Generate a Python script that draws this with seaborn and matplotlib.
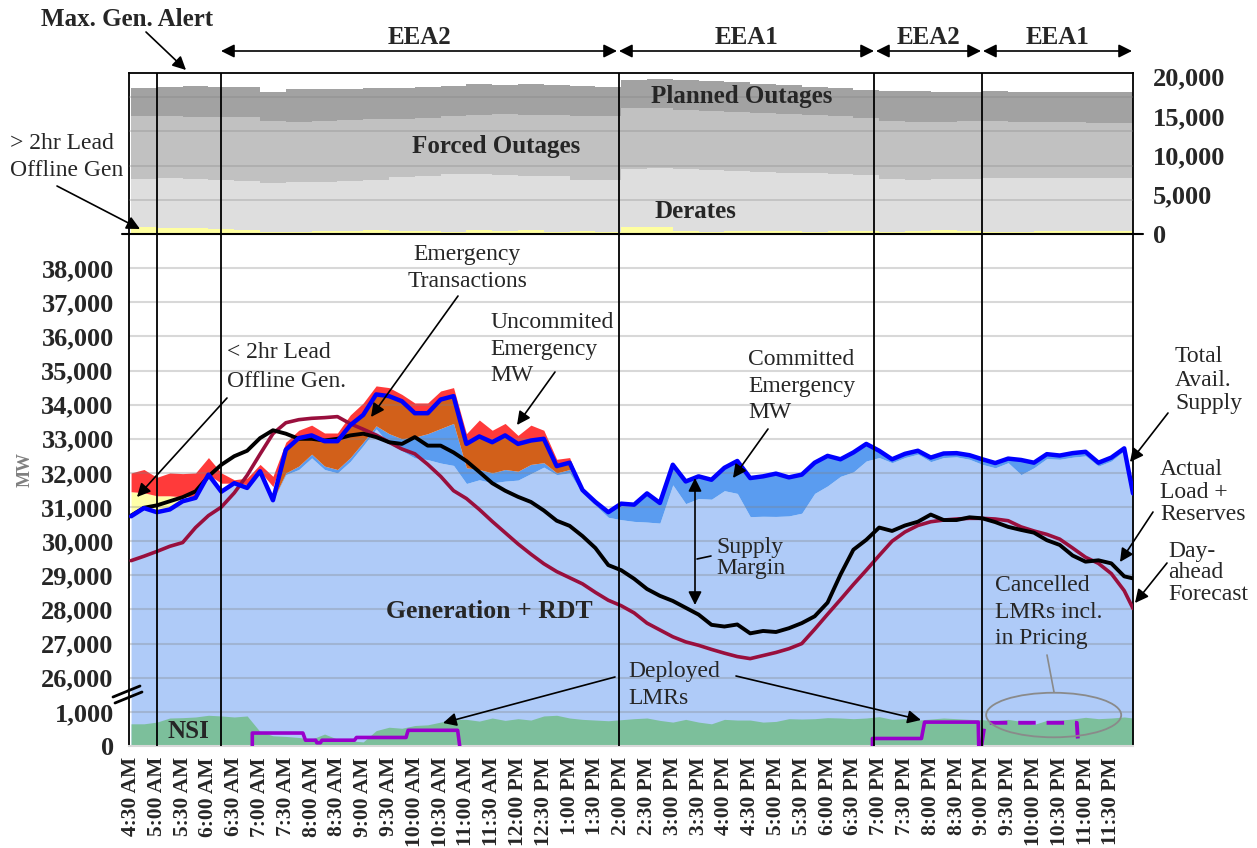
import numpy as np
import matplotlib
matplotlib.use("Agg")
import matplotlib.pyplot as plt
from matplotlib.patches import Ellipse
from matplotlib.lines import Line2D
import seaborn as sns

sns.set_style("white")
plt.rcParams["font.family"] = ["Liberation Serif", "DejaVu Serif"]

W, H = 1257, 848

# ---- bottom panel, 15-minute readings (hours of day, MW) ----
t = np.append(np.arange(4.5, 23.76, 0.25), 23.92)

supply = np.array([  # total available supply (blue line)
    30730, 30970, 30850, 30930, 31170, 31270, 31950, 31450, 31700, 31560,
    32050, 31200, 32680, 33020, 33100, 32930, 32930, 33400, 33700, 34300,
    34250, 34100, 33750, 33750, 34150, 34250, 32850, 33070, 32900, 33100,
    32850, 32950, 33000, 32200, 32300, 31500, 31150, 30850, 31100, 31070,
    31400, 31120, 32240, 31750, 31900, 31800, 32150, 32350, 31850, 31900,
    31980, 31870, 31950, 32300, 32500, 32400, 32600, 32850, 32650, 32400,
    32560, 32650, 32450, 32570, 32580, 32520, 32400, 32290, 32420, 32380,
    32300, 32550, 32510, 32580, 32620, 32300, 32450, 32720, 31400])

gen_rdt = np.array([  # generation + RDT (light blue top)
    30700, 30950, 30830, 30910, 31150, 31250, 31920, 31430, 31680, 31540,
    32020, 31180, 31950, 32100, 32440, 32100, 32000, 32340, 32800, 33290,
    32850, 32650, 32440, 32390, 32290, 32220, 31690, 31800, 31710, 31760,
    31790, 31980, 32170, 31950, 32000, 31400, 31050, 30700, 30630, 30580,
    30560, 30530, 31650, 31100, 31250, 31230, 31480, 31400, 30720, 30730,
    30725, 30740, 30820, 31400, 31620, 31900, 32030, 32350, 32450, 32300,
    32450, 32550, 32330, 32450, 32470, 32400, 32250, 32150, 32300, 31950,
    32150, 32420, 32400, 32460, 32500, 32200, 32350, 32650, 31350])

# committed emergency top while emergency transactions flow (7:15 - 13:15)
committed_am = [31200, 32000, 32200, 32550, 32200, 32100, 32450, 32900, 33380,
                33150, 33000, 33050, 33150, 33300, 33450, 32150, 32100, 32000,
                32100, 32050, 32250, 32300, 32000, 32100, 31500]

# uncommitted emergency MW band (4:30 - 13:15)
uncommitted_hi = [32000, 32100, 31870, 32000, 31980, 32000, 32450, 32000, 31800,
                  31850, 32250, 31900, 32900, 33250, 33400, 33170, 33170, 33700,
                  34050, 34550, 34500, 34300, 34050, 34050, 34400, 34500, 33150,
                  33550, 33250, 33450, 33100, 33400, 33250, 32400, 32450, 31500]
uncommitted_lo_early = [31450, 31420, 31330, 31330, 31300, 31320, 31950, 31700,
                        31700, 31660, 32050, 31600]

# < 2hr lead offline gen (top of yellow band, 4:30 - 6:00)
lead2_top = [31450, 31420, 31330, 31330, 31300, 31320, 31950]

load_reserves = np.array([
    30750, 30980, 31050, 31170, 31290, 31460, 31900, 32240, 32490, 32650,
    33020, 33250, 33150, 33000, 33000, 32950, 33000, 33100, 33150, 33050,
    32900, 32850, 33050, 32800, 32800, 32600, 32350, 32030, 31700, 31480,
    31300, 31150, 30900, 30600, 30450, 30150, 29800, 29300, 29150, 28900,
    28600, 28400, 28250, 28050, 27850, 27550, 27500, 27560, 27300, 27370,
    27340, 27450, 27600, 27800, 28200, 29020, 29750, 30040, 30400, 30300,
    30460, 30570, 30780, 30620, 30620, 30700, 30670, 30560, 30420, 30330,
    30250, 30030, 29890, 29580, 29400, 29440, 29350, 28970, 28910])

day_ahead = np.array([
    29430, 29560, 29700, 29850, 29960, 30400, 30750, 31000, 31415, 31930,
    32550, 33150, 33470, 33560, 33600, 33620, 33650, 33440, 33280, 33110,
    32900, 32700, 32560, 32250, 31900, 31480, 31250, 30930, 30580, 30250,
    29920, 29620, 29340, 29110, 28930, 28750, 28500, 28270, 28110, 27900,
    27600, 27400, 27200, 27050, 26950, 26830, 26720, 26620, 26560, 26650,
    26740, 26850, 27000, 27420, 27860, 28290, 28730, 29150, 29580, 30000,
    30270, 30460, 30570, 30620, 30650, 30670, 30670, 30650, 30600, 30420,
    30300, 30200, 30060, 29800, 29530, 29350, 29050, 28550, 28030])

nsi = np.array([
    650, 650, 700, 820, 830, 850, 900, 880, 850, 880,
    420, 300, 280, 250, 200, 350, 200, 150, 120, 450,
    550, 520, 600, 620, 700, 780, 780, 730, 820, 750,
    800, 760, 880, 900, 820, 780, 760, 740, 770, 800,
    820, 750, 700, 780, 700, 650, 780, 760, 760, 700,
    720, 800, 790, 800, 830, 820, 800, 820, 860, 780,
    800, 760, 790, 820, 800, 780, 770, 740, 780, 720,
    630, 750, 760, 790, 840, 800, 820, 850, 820])

# deployed / cancelled LMRs (step changes)
lmr_am_t = [6.85, 6.85, 7.83, 7.88, 8.08, 8.1, 8.17, 8.2, 8.83, 8.87, 9.83, 9.87, 10.83, 10.87]
lmr_am_mw = [0, 380, 380, 170, 170, 95, 95, 170, 170, 250, 250, 460, 460, 0]
lmr_pm_t = [18.87, 18.87, 19.82, 19.88, 20.92, 20.93]
lmr_pm_mw = [0, 220, 220, 700, 700, 0]
cancelled_t = [20.98, 21.05, 22.83, 22.86]
cancelled_mw = [0, 680, 680, 0]

# ---- top panel, 30-minute readings ----
t30 = np.append(np.arange(4.5, 23.6, 0.5), 23.92)
offline_gen = [900, 700, 750, 600, 500, 200, 250, 400, 350, 450, 400, 350, 300, 500,
               400, 450, 300, 400, 300, 900, 900, 350, 300, 350, 400, 350, 300, 350,
               400, 300, 350, 450, 400, 300, 300, 400, 400, 350, 350, 300]
derates_top = [7000, 7050, 6950, 6800, 6750, 6500, 6550, 6600, 6700, 6900, 7200, 7400,
               7600, 7650, 7550, 7400, 7350, 6850, 6850, 8300, 8350, 8200, 8100, 8000,
               7900, 7800, 7700, 7600, 7450, 6950, 6900, 6950, 7000, 7050, 7050, 7050,
               7100, 7100, 7150, 7200]
forced_top = [15000, 15000, 14900, 14850, 14800, 14300, 14250, 14300, 14500, 14650,
              14650, 14750, 15000, 15100, 15200, 15150, 15100, 15000, 15000, 15950,
              15950, 15700, 15600, 15500, 15400, 15300, 15100, 14950, 14700, 14300,
              14250, 14250, 14300, 14300, 14250, 14250, 14200, 14150, 14100, 14600]
planned_top = [18600, 18700, 18800, 18700, 18700, 18100, 18400, 18450, 18450, 18550,
               18600, 18700, 18850, 19000, 18900, 19000, 18900, 18800, 18700, 19600,
               19650, 19500, 19400, 19300, 19100, 18950, 18700, 18500, 18300, 18200,
               18150, 18100, 18100, 18150, 18100, 18100, 18050, 18050, 18000, 18400]

event_lines = [5.0, 6.25, 13.95, 18.9, 21.0]
bottom_ticks = [0, 1000] + list(range(26000, 38001, 1000))
top_ticks = [0, 5000, 10000, 15000, 20000]
x_ticks = np.arange(4.5, 23.6, 0.5)


def time_label(h):
    hh, mm = int(h), int(round((h - int(h)) * 60))
    suffix = "AM" if hh < 12 else "PM"
    hh12 = hh if hh <= 12 else hh - 12
    return f"{hh12}:{mm:02d} {suffix}"


x_labels = [time_label(h) for h in x_ticks]


# broken axis: 0-1000 normal, 1000-26000 squeezed, 26000+ normal
def fwd(v):
    v = np.asarray(v, dtype=float)
    return np.where(v <= 1000, v, np.where(v >= 26000, v - 24000, 1000 + (v - 1000) / 25.0))


def inv(u):
    u = np.asarray(u, dtype=float)
    return np.where(u <= 1000, u, np.where(u >= 2000, u + 24000, 1000 + (u - 1000) * 25.0))


def fx(x):
    return x / W


def fy(y):
    return 1 - y / H


fig = plt.figure(figsize=(W / 100, H / 100), dpi=100)
ax_top = fig.add_axes([fx(129), fy(234), 1004 / W, 161 / H])
ax = fig.add_axes([fx(129), fy(746), 1004 / W, 512 / H], sharex=ax_top)

# ---------------- top panel ----------------
ax_top.fill_between(t30, 0, offline_gen, step="post", color="#ffffa0", lw=0)
ax_top.fill_between(t30, offline_gen, derates_top, step="post", color="#dedede", lw=0)
ax_top.fill_between(t30, derates_top, forced_top, step="post", color="#c1c1c1", lw=0)
ax_top.fill_between(t30, forced_top, planned_top, step="post", color="#a2a2a2", lw=0)
for v in [4340, 8680, 13020, 17360]:
    ax_top.axhline(v, color="#808080", alpha=0.3, lw=1.3, zorder=3)
ax_top.set_ylim(0, 20450)
ax_top.yaxis.tick_right()
ax_top.set_yticks(top_ticks)
ax_top.set_yticklabels([f"{v:,}" for v in top_ticks], fontweight="bold", fontsize=19)
ax_top.tick_params(axis="y", length=0, pad=14.5)
ax_top.tick_params(axis="x", bottom=False, labelbottom=False)
for s in ["left", "right", "top"]:
    ax_top.spines[s].set_color("black")
    ax_top.spines[s].set_linewidth(1.3)
ax_top.spines["bottom"].set_visible(False)

# ---------------- bottom panel ----------------
ax.set_yscale("function", functions=(fwd, inv))
ax.set_ylim(0, 39000)
ax.set_xlim(4.46, 23.92)

committed_top = supply.copy()
committed_top[11:36] = committed_am
uncommitted_lo = np.concatenate([uncommitted_lo_early, supply[12:36]])

ax.fill_between(t, 0, gen_rdt, color="#afcbf8", lw=0, zorder=1)
ax.fill_between(t, gen_rdt, committed_top, color="#5a9cf0", lw=0, zorder=1)
ax.fill_between(t[11:36], committed_am, supply[11:36], color="#d2601a", lw=0, zorder=1)
ax.fill_between(t[:7], supply[:7], lead2_top, color="#ffffa8", lw=0, zorder=1)
ax.fill_between(t[:36], uncommitted_lo, uncommitted_hi, color="#ff3a3a", lw=0, zorder=1)
ax.fill_between(t, 0, nsi, color="#7cbf9b", lw=0, zorder=1.5)

for v in bottom_ticks[1:]:
    ax.axhline(v, color="#808080", alpha=0.3, lw=1.5, zorder=2)

sns.lineplot(x=t, y=day_ahead, ax=ax, color="#990f3d", lw=2.6, zorder=4)
sns.lineplot(x=t, y=load_reserves, ax=ax, color="black", lw=2.8, zorder=5)
sns.lineplot(x=t, y=supply, ax=ax, color="#0000ff", lw=3.2, zorder=6)
sns.lineplot(x=lmr_am_t, y=lmr_am_mw, ax=ax, color="#9900cc", lw=2.6,
             estimator=None, sort=False, zorder=6)
sns.lineplot(x=lmr_pm_t, y=lmr_pm_mw, ax=ax, color="#9900cc", lw=2.6,
             estimator=None, sort=False, zorder=6)
ax.plot(cancelled_t, cancelled_mw, color="#9900cc", lw=2.8,
        linestyle=(0, (4.5, 2.8)), zorder=6)

ax.set_yticks(bottom_ticks)
ax.set_yticklabels([f"{v:,}" for v in bottom_ticks], fontweight="bold", fontsize=19)
ax.set_xticks(x_ticks)
ax.set_xticklabels(x_labels, rotation=90, fontweight="bold", fontsize=15.5, va="top")
ax.tick_params(axis="both", length=0)
ax.tick_params(axis="y", pad=11)
ax.tick_params(axis="x", pad=8)
ax.set_xlabel("")
ax.set_ylabel("")
ax.spines["top"].set_visible(False)
ax.spines["bottom"].set_color("#d8d8d8")
ax.spines["bottom"].set_linewidth(1.5)
for s in ["left", "right"]:
    ax.spines[s].set_color("black")
    ax.spines[s].set_linewidth(1.3)

for tv in event_lines:
    ax_top.axvline(tv, color="black", lw=1.3, zorder=7)
    ax.axvline(tv, color="black", lw=1.3, zorder=7)

ax.add_patch(Ellipse((0.921, 0.0605), 0.1345, 0.087, transform=ax.transAxes,
                     fill=False, edgecolor="#8a8a8a", lw=1.3, zorder=8))

# panel separator (0 line of the outage panel)
fig.add_artist(Line2D([fx(122), fx(1143)], [fy(234), fy(234)], color="black", lw=1.5))
# axis break marks
fig.add_artist(Line2D([fx(113), fx(140)], [fy(697), fy(686)], color="black", lw=2))
fig.add_artist(Line2D([fx(115), fx(142)], [fy(703), fy(692)], color="black", lw=2))


def txt(x, y, s, size=17, weight="normal", ha="left", ls=1.37, **kw):
    fig.text(fx(x), fy(y), s, fontsize=size, fontweight=weight, ha=ha, va="center",
             linespacing=ls, **kw)


def arrow(x1, y1, x2, y2, style="-|>", color="black", lw=1.2):
    ax.annotate("", xy=(fx(x2), fy(y2)), xytext=(fx(x1), fy(y1)),
                xycoords="figure fraction", textcoords="figure fraction",
                arrowprops=dict(arrowstyle=style, color=color, lw=lw,
                                mutation_scale=20, shrinkA=0, shrinkB=0),
                zorder=9)


# header
txt(127, 20, "Max. Gen. Alert", size=18, weight="bold", ha="center")
arrow(146, 32, 186, 70)
for x1, x2, lab in [(220, 618, "EEA2"), (618, 875, "EEA1"), (875, 982, "EEA2"), (982, 1133, "EEA1")]:
    arrow(x1 + 1, 51, x2 - 1, 51, style="<|-|>")
    txt((x1 + x2) / 2, 37, lab, size=18, weight="bold", ha="center")

# top panel labels
txt(10, 157, "> 2hr Lead\nOffline Gen", ls=1.35)
arrow(57, 186, 140, 229)
txt(742, 97, "Planned Outages", size=18, weight="bold", ha="center")
txt(496, 146, "Forced Outages", size=18, weight="bold", ha="center")
txt(695, 212, "Derates", size=18, weight="bold", ha="center")

# bottom panel labels
txt(25, 470, "MW", size=13, weight="bold", ha="center", rotation=90, color="#808080")
txt(467, 268, "Emergency\nTransactions", ha="center", ls=1.35)
arrow(458, 296, 371, 417)
txt(490, 349, "Uncommited\nEmergency\nMW")
arrow(555, 372, 517, 425)
txt(748, 386, "Committed\nEmergency\nMW")
arrow(768, 429, 733, 478)
txt(227, 367, "< 2hr Lead\nOffline Gen.", ls=1.45)
arrow(227, 398, 137, 497)
txt(1175, 380, "Total\nAvail.\nSupply", ls=1.15)
arrow(1168, 413, 1130, 462)
txt(1160, 492, "Actual\nLoad +\nReserves", ls=1.08)
arrow(1153, 512, 1120, 562)
txt(1168, 573, "Day-\nahead\nForecast", ls=1.05)
arrow(1167, 563, 1135, 603)
txt(716, 558, "Supply\nMargin", ls=1.05)
arrow(695, 478, 695, 605, style="<|-|>")
fig.add_artist(Line2D([fx(697), fx(711)], [fy(559), fy(556)], color="black", lw=1.2))
txt(489, 612, "Generation + RDT", size=18.5, weight="bold", ha="center")
txt(628, 685, "Deployed\nLMRs", ls=1.4)
arrow(615, 677, 443, 723)
arrow(736, 676, 921, 720)
txt(995, 612, "Cancelled\nLMRs incl.\nin Pricing")
fig.add_artist(Line2D([fx(1047), fx(1054)], [fy(655), fy(692)], color="#8a8a8a", lw=1.2))
txt(188, 732, "NSI", size=18, weight="bold", ha="center")

fig.savefig("out.png", dpi=100)
